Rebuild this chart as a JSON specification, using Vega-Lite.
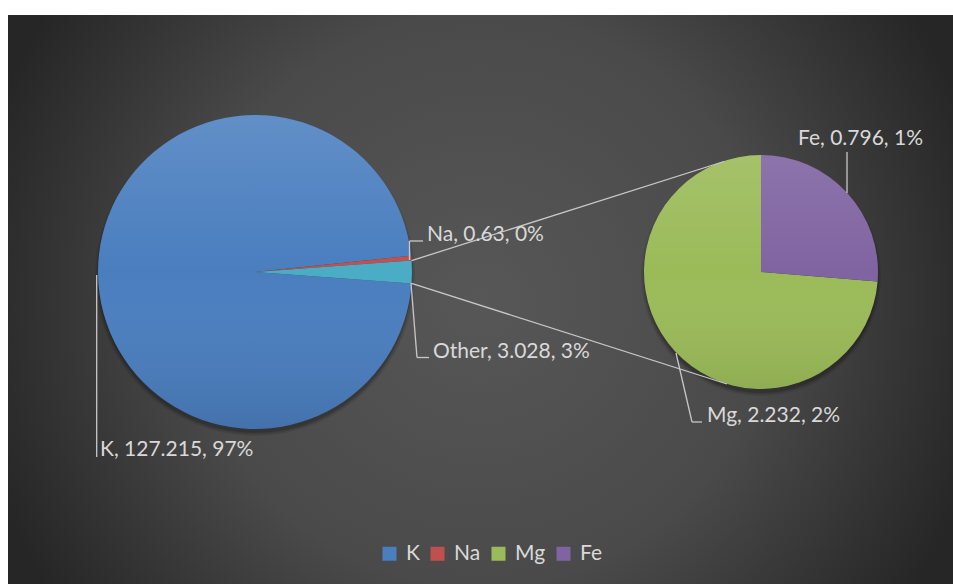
{
  "$schema": "https://vega.github.io/schema/vega-lite/v6.json",
  "width": 953,
  "height": 584,
  "padding": 0,
  "autosize": {"type": "none"},
  "background": "#ffffff",
  "data": {
    "values": [
      {"element": "K", "value": 127.215, "pie": "main", "label": "K, 127.215, 97%"},
      {"element": "Na", "value": 0.63, "pie": "main", "label": "Na, 0.63, 0%"},
      {"element": "Other", "value": 3.028, "pie": "main", "label": "Other, 3.028, 3%"},
      {"element": "Mg", "value": 2.232, "pie": "second", "label": "Mg, 2.232, 2%"},
      {"element": "Fe", "value": 0.796, "pie": "second", "label": "Fe, 0.796, 1%"}
    ]
  },
  "resolve": {"scale": {"theta": "independent"}},
  "layer": [
    {
      "transform": [{"filter": "datum.element == 'K'"}],
      "mark": {"type": "rect", "fill": {"gradient": "radial", "x1": 0.5, "y1": 0.5, "r1": 0, "x2": 0.5, "y2": 0.5, "r2": 0.55, "stops": [{"offset": 0, "color": "#575757"}, {"offset": 0.55, "color": "#4a4a4a"}, {"offset": 1, "color": "#262626"}]}},
      "encoding": {
        "x": {"datum": -1.5732, "type": "quantitative", "scale": {"domain": [-1.6242, 4.4459], "nice": false, "zero": false}, "axis": null},
        "x2": {"datum": 4.4459},
        "y": {"datum": 1.6369, "type": "quantitative", "scale": {"domain": [-1.9873, 1.7325], "nice": false, "zero": false}, "axis": null},
        "y2": {"datum": -1.9873}
      }
    },
    {
      "transform": [{"filter": "datum.element == 'K'"}],
      "mark": {"type": "arc", "theta": 0, "theta2": 6.2832, "outerRadius": 160, "fill": "#000000", "opacity": 0.07, "yOffset": 4},
      "encoding": {"x": {"datum": 0, "axis": null}, "y": {"datum": 0, "axis": null}}
    },
    {
      "transform": [{"filter": "datum.element == 'K'"}],
      "mark": {"type": "arc", "theta": 0, "theta2": 6.2832, "outerRadius": 158.5, "fill": "#000000", "opacity": 0.1, "yOffset": 4},
      "encoding": {"x": {"datum": 0, "axis": null}, "y": {"datum": 0, "axis": null}}
    },
    {
      "transform": [{"filter": "datum.element == 'K'"}],
      "mark": {"type": "arc", "theta": 0, "theta2": 6.2832, "outerRadius": 157, "fill": "#000000", "opacity": 0.15, "yOffset": 4},
      "encoding": {"x": {"datum": 0, "axis": null}, "y": {"datum": 0, "axis": null}}
    },
    {
      "transform": [{"filter": "datum.element == 'Mg'"}],
      "mark": {"type": "arc", "theta": 0, "theta2": 6.2832, "outerRadius": 120, "fill": "#000000", "opacity": 0.07, "yOffset": 4},
      "encoding": {"x": {"datum": 3.2229, "axis": null}, "y": {"datum": 0, "axis": null}}
    },
    {
      "transform": [{"filter": "datum.element == 'Mg'"}],
      "mark": {"type": "arc", "theta": 0, "theta2": 6.2832, "outerRadius": 118.5, "fill": "#000000", "opacity": 0.1, "yOffset": 4},
      "encoding": {"x": {"datum": 3.2229, "axis": null}, "y": {"datum": 0, "axis": null}}
    },
    {
      "transform": [{"filter": "datum.element == 'Mg'"}],
      "mark": {"type": "arc", "theta": 0, "theta2": 6.2832, "outerRadius": 117, "fill": "#000000", "opacity": 0.15, "yOffset": 4},
      "encoding": {"x": {"datum": 3.2229, "axis": null}, "y": {"datum": 0, "axis": null}}
    },
    {
      "transform": [{"filter": "datum.pie == 'main'"}],
      "mark": {"type": "arc", "outerRadius": 157, "strokeWidth": 0},
      "encoding": {
        "x": {"datum": 0, "type": "quantitative", "axis": null},
        "y": {"datum": 0, "type": "quantitative", "axis": null},
        "theta": {"field": "value", "type": "quantitative", "stack": true, "scale": {"range": [1.467863, 7.751048]}},
        "order": {"field": "value", "type": "quantitative", "sort": "ascending"},
        "color": {
          "field": "element", "type": "nominal",
          "scale": {"domain": ["K", "Na", "Mg", "Fe", "Other"], "range": ["#4a7ebf", "#c0504d", "#9bbb59", "#8064a2", "#4bacc6"]},
          "legend": {"values": ["K", "Na", "Mg", "Fe"], "title": null, "orient": "none", "direction": "horizontal", "legendX": 379, "legendY": 543}
        }
      }
    },
    {
      "transform": [{"filter": "datum.pie == 'second'"}],
      "mark": {"type": "arc", "outerRadius": 117, "strokeWidth": 0},
      "encoding": {
        "x": {"datum": 3.2229, "type": "quantitative", "axis": null},
        "y": {"datum": 0, "type": "quantitative", "axis": null},
        "theta": {"field": "value", "type": "quantitative", "stack": true},
        "order": {"field": "value", "type": "quantitative", "sort": "ascending"},
        "color": {"field": "element", "type": "nominal"}
      }
    },
    {
      "transform": [{"filter": "datum.element == 'K'"}],
      "mark": {"type": "arc", "theta": 0, "theta2": 6.2832, "outerRadius": 157, "fill": {"gradient": "linear", "x1": 0, "y1": 0, "x2": 0, "y2": 1, "stops": [{"offset": 0, "color": "rgba(255,255,255,0.13)"}, {"offset": 0.5, "color": "rgba(255,255,255,0)"}, {"offset": 1, "color": "rgba(0,0,0,0.1)"}]}},
      "encoding": {"x": {"datum": 0, "axis": null}, "y": {"datum": 0, "axis": null}}
    },
    {
      "transform": [{"filter": "datum.element == 'Mg'"}],
      "mark": {"type": "arc", "theta": 0, "theta2": 6.2832, "outerRadius": 117, "fill": {"gradient": "linear", "x1": 0, "y1": 0, "x2": 0, "y2": 1, "stops": [{"offset": 0, "color": "rgba(255,255,255,0.1)"}, {"offset": 0.5, "color": "rgba(255,255,255,0)"}, {"offset": 1, "color": "rgba(0,0,0,0.08)"}]}},
      "encoding": {"x": {"datum": 3.2229, "axis": null}, "y": {"datum": 0, "axis": null}}
    },
    {
      "transform": [{"filter": "datum.element == 'Other'"}],
      "mark": {"type": "rule", "color": "#c8c8c8", "strokeWidth": 1.3},
      "encoding": {"x": {"datum": 0.9974, "axis": null}, "y": {"datum": 0.0726, "axis": null}, "x2": {"datum": 2.9873}, "y2": {"datum": 0.7038}}
    },
    {
      "transform": [{"filter": "datum.element == 'Other'"}],
      "mark": {"type": "rule", "color": "#c8c8c8", "strokeWidth": 1.3},
      "encoding": {"x": {"datum": 0.9974, "axis": null}, "y": {"datum": -0.0726, "axis": null}, "x2": {"datum": 3.0064}, "y2": {"datum": -0.7134}}
    },
    {
      "transform": [{"filter": "datum.element == 'K'"}],
      "mark": {"type": "rule", "color": "#c8c8c8", "strokeWidth": 1.3},
      "encoding": {"x": {"datum": -1.0083, "axis": null}, "y": {"datum": -0.0191, "axis": null}, "x2": {"datum": -1.0083}, "y2": {"datum": -1.1783}}
    },
    {
      "transform": [{"filter": "datum.element == 'Na'"}],
      "mark": {"type": "rule", "color": "#c8c8c8", "strokeWidth": 1.3},
      "encoding": {"x": {"datum": 0.9841, "axis": null}, "y": {"datum": 0.0764, "axis": null}, "x2": {"datum": 0.9841}, "y2": {"datum": 0.1975}}
    },
    {
      "transform": [{"filter": "datum.element == 'Na'"}],
      "mark": {"type": "rule", "color": "#c8c8c8", "strokeWidth": 1.3},
      "encoding": {"x": {"datum": 0.9841, "axis": null}, "y": {"datum": 0.1975, "axis": null}, "x2": {"datum": 1.0701}, "y2": {"datum": 0.1975}}
    },
    {
      "transform": [{"filter": "datum.element == 'Other'"}],
      "mark": {"type": "rule", "color": "#c8c8c8", "strokeWidth": 1.3},
      "encoding": {"x": {"datum": 0.9936, "axis": null}, "y": {"datum": -0.0701, "axis": null}, "x2": {"datum": 1.0318}, "y2": {"datum": -0.5446}}
    },
    {
      "transform": [{"filter": "datum.element == 'Other'"}],
      "mark": {"type": "rule", "color": "#c8c8c8", "strokeWidth": 1.3},
      "encoding": {"x": {"datum": 1.0318, "axis": null}, "y": {"datum": -0.5446, "axis": null}, "x2": {"datum": 1.1083}, "y2": {"datum": -0.5446}}
    },
    {
      "transform": [{"filter": "datum.element == 'Fe'"}],
      "mark": {"type": "rule", "color": "#c8c8c8", "strokeWidth": 1.3},
      "encoding": {"x": {"datum": 3.7707, "axis": null}, "y": {"datum": 0.5032, "axis": null}, "x2": {"datum": 3.7707}, "y2": {"datum": 0.7643}}
    },
    {
      "transform": [{"filter": "datum.element == 'Mg'"}],
      "mark": {"type": "rule", "color": "#c8c8c8", "strokeWidth": 1.3},
      "encoding": {"x": {"datum": 2.6815, "axis": null}, "y": {"datum": -0.5159, "axis": null}, "x2": {"datum": 2.7834}, "y2": {"datum": -0.9554}}
    },
    {
      "transform": [{"filter": "datum.element == 'Mg'"}],
      "mark": {"type": "rule", "color": "#c8c8c8", "strokeWidth": 1.3},
      "encoding": {"x": {"datum": 2.7834, "axis": null}, "y": {"datum": -0.9554, "axis": null}, "x2": {"datum": 2.8471}, "y2": {"datum": -0.9554}}
    },
    {
      "transform": [{"filter": "datum.element == 'K'"}],
      "mark": {"type": "text", "align": "left", "baseline": "alphabetic", "font": "Lato", "fontSize": 21, "color": "#d9d9d9"},
      "encoding": {"x": {"datum": -0.9873, "axis": null}, "y": {"datum": -1.172, "axis": null}, "text": {"field": "label"}}
    },
    {
      "transform": [{"filter": "datum.element == 'Na'"}],
      "mark": {"type": "text", "align": "left", "baseline": "alphabetic", "font": "Lato", "fontSize": 21, "color": "#d9d9d9"},
      "encoding": {"x": {"datum": 1.0955, "axis": null}, "y": {"datum": 0.1975, "axis": null}, "text": {"field": "label"}}
    },
    {
      "transform": [{"filter": "datum.element == 'Other'"}],
      "mark": {"type": "text", "align": "left", "baseline": "alphabetic", "font": "Lato", "fontSize": 21, "color": "#d9d9d9"},
      "encoding": {"x": {"datum": 1.1338, "axis": null}, "y": {"datum": -0.5478, "axis": null}, "text": {"field": "label"}}
    },
    {
      "transform": [{"filter": "datum.element == 'Fe'"}],
      "mark": {"type": "text", "align": "left", "baseline": "alphabetic", "font": "Lato", "fontSize": 21, "color": "#d9d9d9"},
      "encoding": {"x": {"datum": 3.4586, "axis": null}, "y": {"datum": 0.8089, "axis": null}, "text": {"field": "label"}}
    },
    {
      "transform": [{"filter": "datum.element == 'Mg'"}],
      "mark": {"type": "text", "align": "left", "baseline": "alphabetic", "font": "Lato", "fontSize": 21, "color": "#d9d9d9"},
      "encoding": {"x": {"datum": 2.879, "axis": null}, "y": {"datum": -0.9554, "axis": null}, "text": {"field": "label"}}
    }
  ],
  "config": {
    "view": {"stroke": null},
    "legend": {
      "labelFont": "Lato", "labelFontSize": 21, "labelColor": "#d9d9d9", "labelOffset": 6,
      "symbolType": "square", "symbolSize": 196, "symbolStrokeWidth": 0, "columnPadding": 7, "padding": 0
    }
  }
}
